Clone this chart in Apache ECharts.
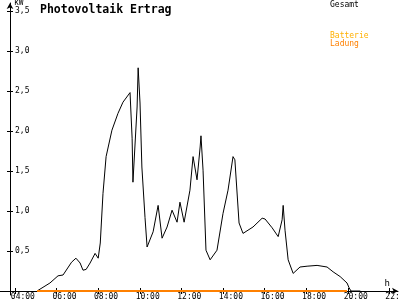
<!DOCTYPE html>
<html><head><meta charset="utf-8">
<script src="https://cdn.jsdelivr.net/npm/echarts@6/dist/echarts.min.js"></script>
<style>html,body{margin:0;padding:0;background:#fff}#c{width:400px;height:300px}</style>
</head><body><div id="c"></div>
<script>
const hours = [5.06,5.68,6.07,6.31,6.72,6.93,7.13,7.27,7.42,7.61,7.85,8.0,8.1,8.23,8.38,8.66,8.95,9.19,9.53,9.63,9.67,9.87,9.92,10.01,10.1,10.25,10.35,10.44,10.64,10.88,11.07,11.31,11.55,11.79,11.93,12.13,12.41,12.56,12.75,12.8,12.9,12.94,13.04,13.18,13.38,13.71,14.0,14.24,14.48,14.57,14.77,14.96,15.44,15.88,16.02,16.36,16.65,16.84,16.89,16.98,17.13,17.37,17.7,18.04,18.52,19.0,19.29,19.63,19.96,20.06,20.15,20.6];
const gesamt = [0,0.1,0.19,0.2,0.36,0.41,0.35,0.26,0.27,0.35,0.47,0.41,0.6,1.22,1.68,2.01,2.22,2.36,2.48,1.91,1.36,2.3,2.79,2.35,1.55,0.92,0.55,0.54,0.74,1.07,0.66,0.8,1.01,0.86,1.11,0.86,1.26,1.68,1.39,1.39,1.8,1.94,1.51,0.51,0.39,0.51,0.97,1.26,1.68,1.64,0.85,0.72,0.8,0.91,0.9,0.79,0.68,0.89,1.07,0.76,0.39,0.22,0.3,0.31,0.32,0.3,0.24,0.18,0.1,0.04,0,0];
const ladungHours = [5.06,19.96];
const ladung = [0,0];
const batterie = [];
const xTicks = [4,6,8,10,12,14,16,18,20,22];
const yTicks = [0.5,1.0,1.5,2.0,2.5,3.0,3.5];
const seriesNames = ['Gesamt','Batterie','Ladung'];
const titleText = 'Photovoltaik Ertrag';

const FONT = 'DejaVu Sans Mono';
const XMIN = 3.28, XMAX = 22.41;
const chart = echarts.init(document.getElementById('c'), null, {renderer:'canvas'});
const pair = (xs, ys) => xs.map((x,i)=>[x, ys[i]]);
const yfmt = v => v.toFixed(1).replace('.', ',');
const xfmt = v => { const h = Math.round(v); return (h<10?'0':'')+h+':00'; };
chart.setOption({
  animation:false,
  backgroundColor:'#fff',
  title:{text:titleText,left:35,top:-1,textStyle:{fontFamily:FONT,fontSize:11.5,fontWeight:'bold',color:'#000'}},
  legend:[
    {data:[{name:seriesNames[0],textStyle:{color:'#000'}}],left:325,top:1,icon:'none',itemWidth:0,itemHeight:8,selectedMode:false,padding:0,
     textStyle:{fontFamily:FONT,fontSize:8,lineHeight:8}},
    {data:[{name:seriesNames[1],textStyle:{color:'#FFB000'}},{name:seriesNames[2],textStyle:{color:'#FF8000'}}],orient:'vertical',left:325,top:32,icon:'none',itemWidth:0,itemHeight:8,itemGap:0,selectedMode:false,padding:0,
     textStyle:{fontFamily:FONT,fontSize:8,lineHeight:8}}
  ],
  grid:{left:0,right:2,top:3,bottom:5,containLabel:false,outerBoundsMode:'none'},
  xAxis:[
    {type:'value',position:'bottom',min:XMIN,max:XMAX,name:'h',nameLocation:'end',nameGap:-8,
     nameTextStyle:{fontFamily:FONT,fontSize:9,color:'#000',align:'right',verticalAlign:'bottom',padding:[0,0,3,0]},
     axisLine:{show:true,onZero:true,symbol:['none','arrow'],symbolSize:[5,6],lineStyle:{color:'#000',width:1}},
     axisTick:{show:true,length:3,customValues:xTicks,lineStyle:{color:'#000'}},
     axisLabel:{show:true,customValues:xTicks.map(v=>v-0.2),formatter:xfmt,align:'left',margin:-2,lineHeight:8,fontFamily:FONT,fontSize:8,color:'#000'},
     splitLine:{show:false}},
    {type:'value',position:'bottom',min:XMIN,max:XMAX,
     axisLine:{show:false,onZero:true},
     axisTick:{show:true,inside:true,length:3,customValues:xTicks,lineStyle:{color:'#000'}},
     axisLabel:{show:false},splitLine:{show:false}}
  ],
  yAxis:[
    {type:'value',position:'left',min:-0.05,max:3.6,offset:-10,name:'kW',nameLocation:'end',nameGap:2,
     nameTextStyle:{fontFamily:FONT,fontSize:8,color:'#000',align:'left',verticalAlign:'top',padding:[0,0,0,4]},
     axisLine:{show:true,onZero:false,symbol:['none','arrow'],symbolSize:[5,6],lineStyle:{color:'#000',width:1}},
     axisTick:{show:true,length:3,customValues:yTicks,lineStyle:{color:'#000'}},
     axisLabel:{show:true,inside:true,margin:5,customValues:yTicks,formatter:yfmt,fontFamily:FONT,fontSize:8,color:'#000'},
     splitLine:{show:false}},
    {type:'value',position:'left',min:-0.05,max:3.6,offset:-10,
     axisLine:{show:false,onZero:false},
     axisTick:{show:true,inside:true,length:3,customValues:yTicks,lineStyle:{color:'#000'}},
     axisLabel:{show:false},splitLine:{show:false}}
  ],
  series:[
    {name:seriesNames[0],type:'line',data:pair(hours,gesamt),showSymbol:false,symbol:'none',lineStyle:{color:'#000',width:1},itemStyle:{color:'#000'},z:3},
    {name:seriesNames[1],type:'line',data:batterie,showSymbol:false,symbol:'none',lineStyle:{color:'#FFB000',width:2},itemStyle:{color:'#FFB000'}},
    {name:seriesNames[2],type:'line',data:pair(ladungHours,ladung),showSymbol:false,symbol:'none',lineStyle:{color:'#FF8000',width:2},itemStyle:{color:'#FF8000'},z:4}
  ]
});
</script></body></html>
